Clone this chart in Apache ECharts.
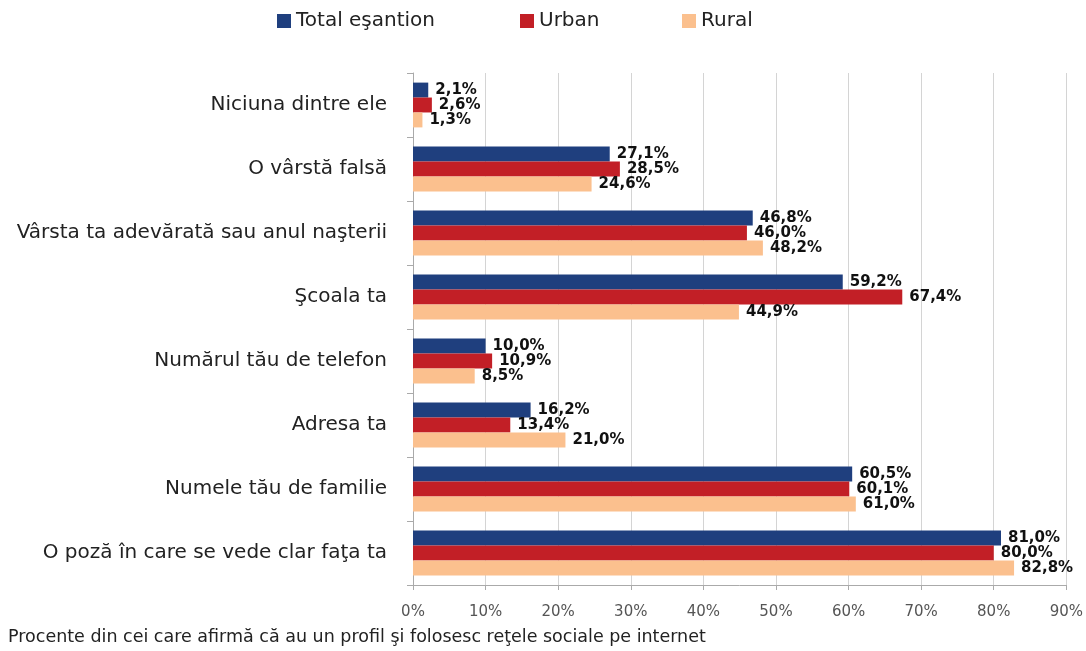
<!DOCTYPE html>
<html>
<head>
<meta charset="utf-8">
<script src="https://cdn.jsdelivr.net/npm/echarts@6/dist/echarts.min.js"></script>
<style>
  html, body { margin: 0; padding: 0; background: #fff; }
  #chart { width: 1086px; height: 651px; }
</style>
</head>
<body>
<div id="chart"></div>
<script>
let categories = ['Niciuna dintre ele', 'O vârstă falsă', 'Vârsta ta adevărată sau anul naşterii', 'Şcoala ta',
    'Numărul tău de telefon', 'Adresa ta', 'Numele tău de familie', 'O poză în care se vede clar faţa ta'];
let total = [2.1, 27.1, 46.8, 59.2, 10.0, 16.2, 60.5, 81.0];
let urban = [2.6, 28.5, 46.0, 67.4, 10.9, 13.4, 60.1, 80.0];
let rural = [1.3, 24.6, 48.2, 44.9, 8.5, 21.0, 61.0, 82.8];
let seriesNames = ['Total eşantion', 'Urban', 'Rural'];
let colors = ['#1f3f7e', '#c21f26', '#fbc08e'];

window.onload = function () {
    let chart = echarts.init(document.getElementById('chart'));
    let font = 'DejaVu Sans, sans-serif';

    function makeSeries(name, data, color) {
        return {
            name: name,
            type: 'bar',
            data: data,
            barGap: '0%',
            barCategoryGap: '30%',
            itemStyle: { color: color },
            label: {
                show: true,
                position: 'right',
                distance: 7,
                color: '#111',
                fontWeight: 'bold',
                fontSize: 15,
                fontFamily: font,
                formatter: (p) => p.value.toFixed(1).replace('.', ',') + '%'
            }
        };
    }

    function legendItem(name, left) {
        return {
            data: [name],
            top: 6,
            left: left,
            itemWidth: 14,
            itemHeight: 14,
            itemGap: 10,
            icon: 'rect',
            textStyle: { fontSize: 20, color: '#222', fontFamily: font }
        };
    }

    let option = {
        animation: false,
        textStyle: { fontFamily: font },
        legend: [
            legendItem(seriesNames[0], 272),
            legendItem(seriesNames[1], 515),
            legendItem(seriesNames[2], 677)
        ],
        grid: { left: 413, right: 12, top: 73, bottom: 66 },
        xAxis: {
            type: 'value',
            min: 0,
            max: 90,
            interval: 10,
            axisLabel: { formatter: '{value}%', fontSize: 15, color: '#555', margin: 20 },
            axisLine: { show: true, lineStyle: { color: '#aaa' } },
            axisTick: { show: true, lineStyle: { color: '#aaa' } },
            splitLine: { lineStyle: { color: '#d4d4d4' } }
        },
        yAxis: {
            type: 'category',
            data: categories,
            inverse: true,
            axisLabel: { fontSize: 20, color: '#222', margin: 26 },
            axisLine: { lineStyle: { color: '#aaa' } },
            axisTick: { show: true, length: 6, lineStyle: { color: '#aaa' } }
        },
        graphic: [{
            type: 'text',
            left: 8,
            top: 628,
            style: {
                text: 'Procente din cei care afirmă că au un profil şi folosesc reţele sociale pe internet',
                fontSize: 17.5,
                fill: '#222',
                fontFamily: font
            }
        }],
        series: [
            makeSeries(seriesNames[0], total, colors[0]),
            makeSeries(seriesNames[1], urban, colors[1]),
            makeSeries(seriesNames[2], rural, colors[2])
        ]
    };
    chart.setOption(option);
};
</script>
</body>
</html>
